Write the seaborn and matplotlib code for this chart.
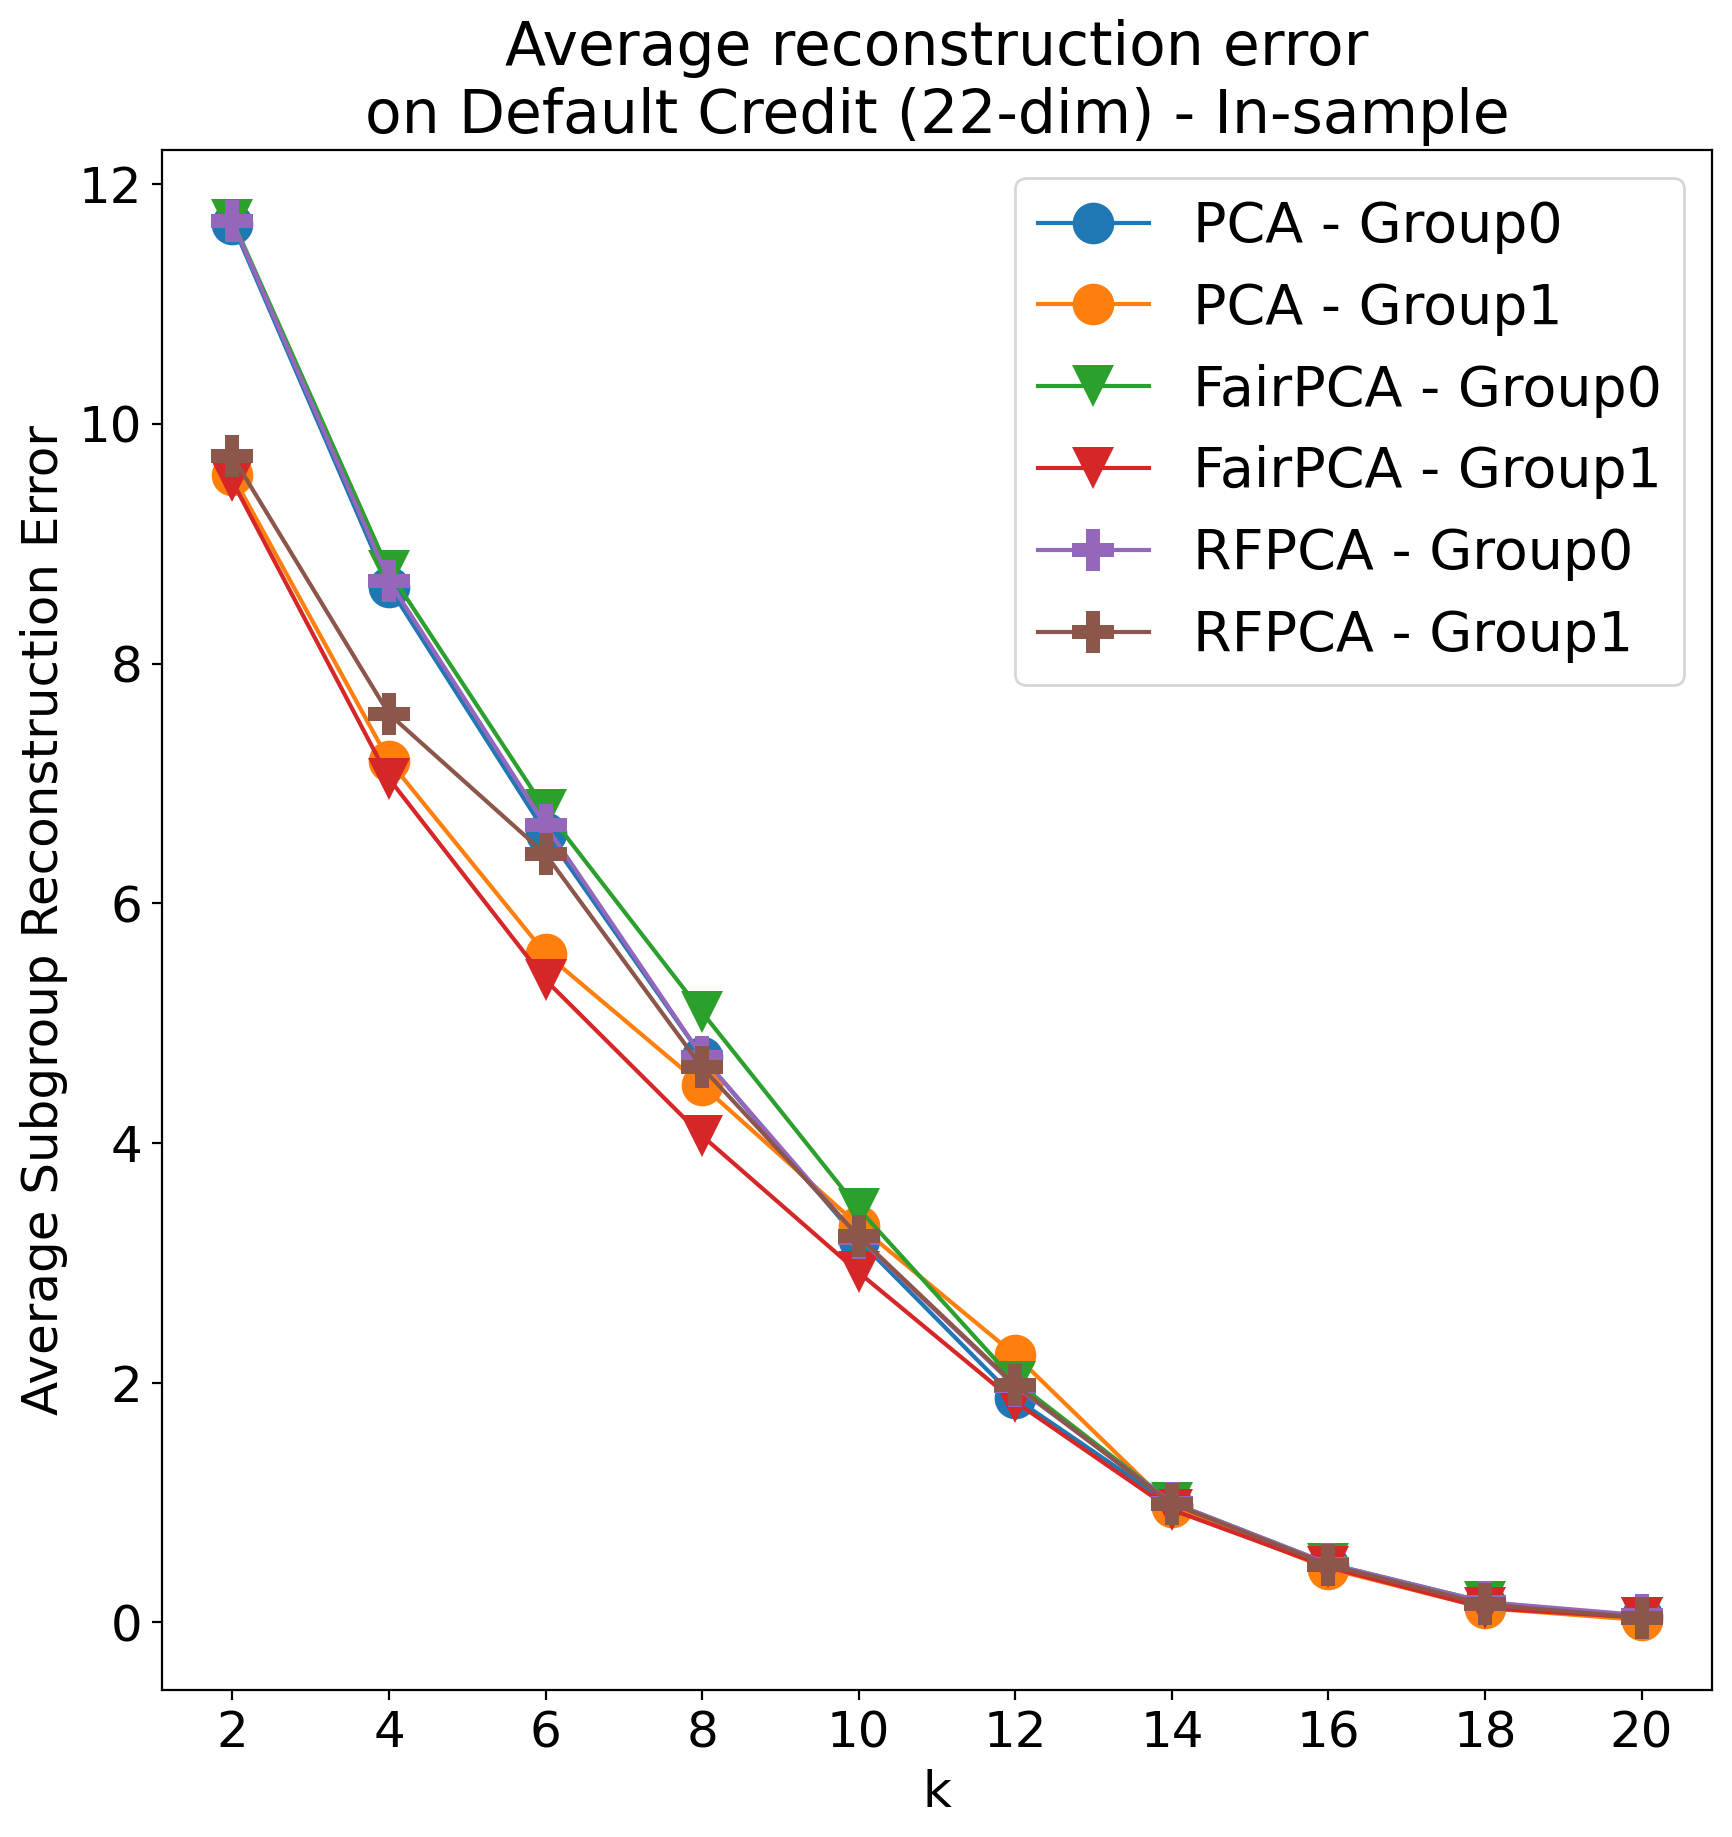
import numpy as np
import pandas as pd
import matplotlib
matplotlib.use("Agg")
import matplotlib.pyplot as plt
import seaborn as sns

# values
k = [2, 4, 6, 8, 10, 12, 14, 16, 18, 20]
pca_g0 = [11.67, 8.64, 6.59, 4.72, 3.19, 1.87, 0.98, 0.48, 0.16, 0.05]
pca_g1 = [9.57, 7.19, 5.58, 4.48, 3.31, 2.23, 0.96, 0.45, 0.12, 0.02]
fair_g0 = [11.70, 8.77, 6.78, 5.09, 3.45, 2.01, 1.00, 0.49, 0.17, 0.04]
fair_g1 = [9.52, 7.04, 5.36, 4.06, 2.92, 1.84, 0.94, 0.46, 0.12, 0.04]
rf_g0 = [11.69, 8.69, 6.65, 4.72, 3.21, 1.97, 1.00, 0.49, 0.17, 0.06]
rf_g1 = [9.73, 7.58, 6.41, 4.63, 3.22, 1.98, 0.99, 0.48, 0.15, 0.04]

labels = ["PCA - Group0", "PCA - Group1", "FairPCA - Group0",
          "FairPCA - Group1", "RFPCA - Group0", "RFPCA - Group1"]
series = [pca_g0, pca_g1, fair_g0, fair_g1, rf_g0, rf_g1]
markers = ["o", "o", "v", "v", "P", "P"]
colors = sns.color_palette("tab10", 6)

fig, ax = plt.subplots(figsize=(8.66, 9.185), dpi=200)
fig.subplots_adjust(left=0.0935, right=0.9885, bottom=0.080, top=0.9183)

for vals, lab, mk, col in zip(series, labels, markers, colors):
    df = pd.DataFrame({"k": k, "err": vals})
    sns.lineplot(data=df, x="k", y="err", marker=mk, markersize=15,
                 markeredgewidth=0, color=col, linewidth=1.5, label=lab,
                 ax=ax, sort=False)

ax.set_xticks(k)
ax.tick_params(labelsize=18)
ax.set_xlabel("k", fontsize=18)
ax.set_ylabel("Average Subgroup Reconstruction Error", fontsize=18)
ax.set_title("Average reconstruction error\non Default Credit (22-dim) - In-sample",
             fontsize=21.6)
ax.legend(loc="upper right", fontsize=20)

fig.savefig("out.png", dpi=200)
